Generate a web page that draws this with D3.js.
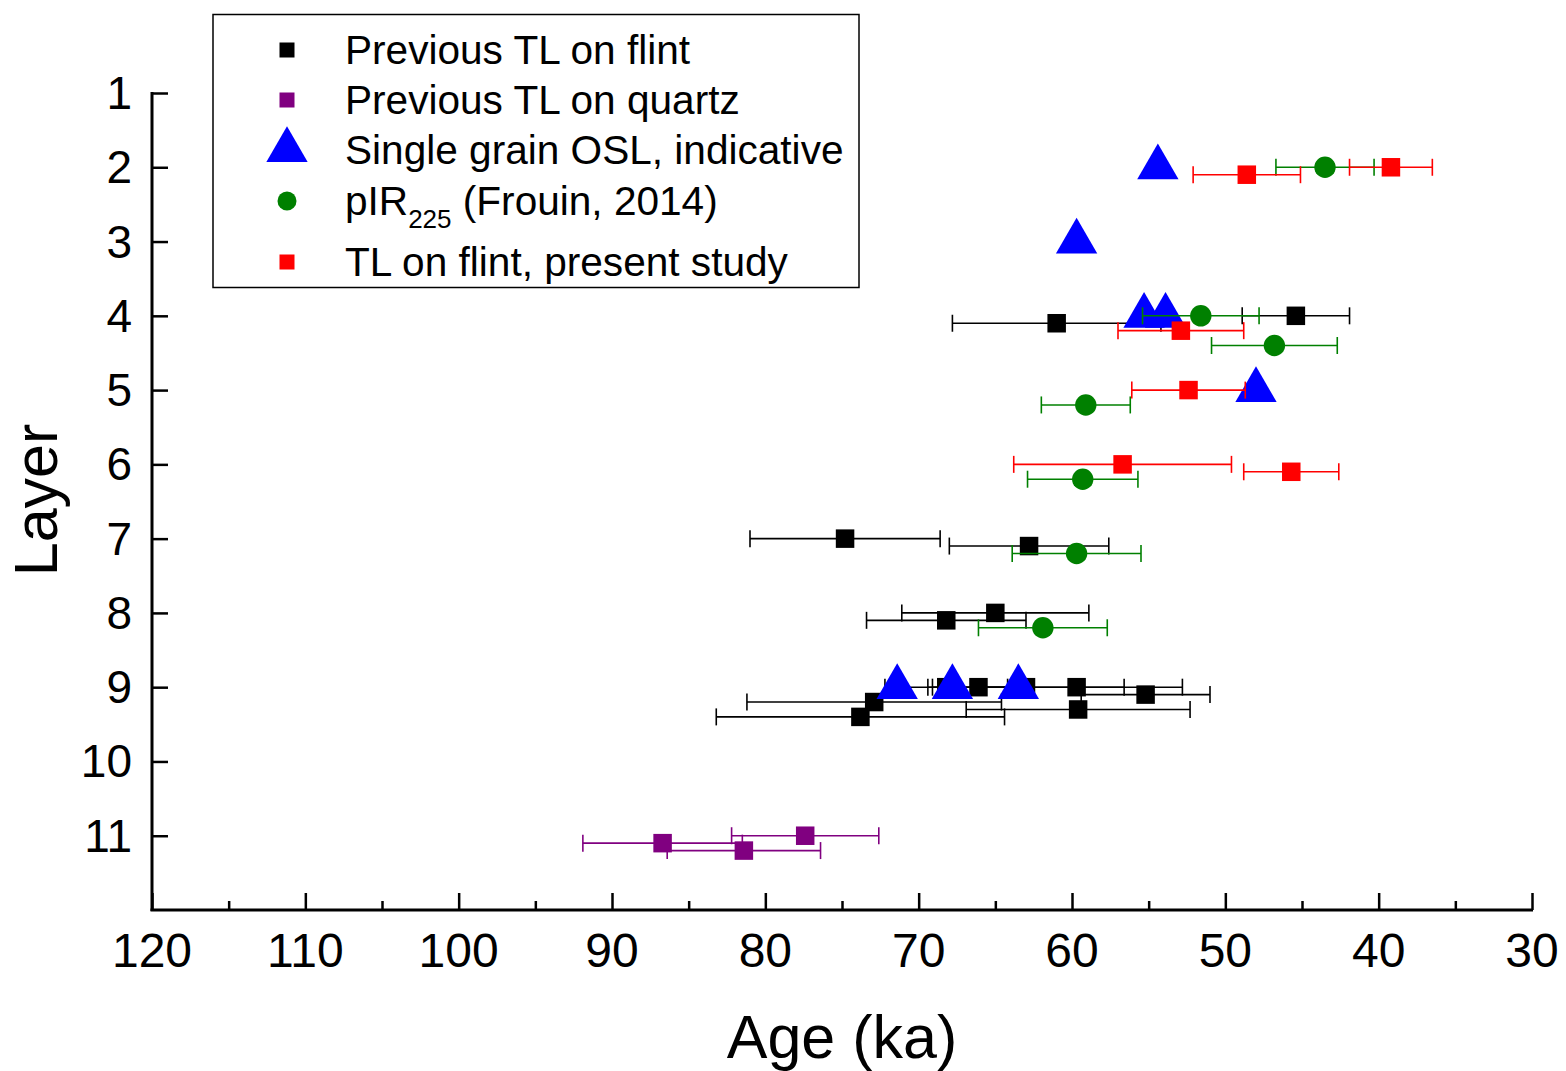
<!DOCTYPE html>
<html>
<head>
<meta charset="utf-8">
<script src="https://cdn.jsdelivr.net/npm/d3@7"></script>
<style>
  html, body { margin: 0; padding: 0; background: #fff; }
  svg { display: block; }
  text { font-family: "Liberation Sans", Arial, sans-serif; fill: #000; }
</style>
</head>
<body>
<svg id="chart" width="1566" height="1071"></svg>
<script>
// ---- data ----
const xTicksMajor = [120, 110, 100, 90, 80, 70, 60, 50, 40, 30];
const xTicksMinor = [115, 105, 95, 85, 75, 65, 55, 45, 35];
const yTicks = [1, 2, 3, 4, 5, 6, 7, 8, 9, 10, 11];

// Previous TL on flint
const flintPrevAge   = [61.0, 45.4, 74.8, 62.8, 65.0, 68.2, 68.2, 66.1, 63.0, 59.7, 55.2, 72.9, 59.6, 73.8];
const flintPrevLayer = [4.1, 4.0, 7.0, 7.1, 8.0, 8.1, 9.0, 9.0, 9.0, 9.0, 9.1, 9.2, 9.3, 9.4];
const flintPrevErr   = [6.8, 3.5, 6.2, 5.2, 6.1, 5.2, 4.0, 3.0, 6.4, 6.9, 4.2, 8.3, 7.3, 9.4];

// Previous TL on quartz
const quartzPrevAge   = [77.4, 86.7, 81.4];
const quartzPrevLayer = [11.0, 11.1, 11.2];
const quartzPrevErr   = [4.8, 5.2, 5.0];

// Single grain OSL, indicative
const oslAge   = [54.4, 59.7, 55.3, 53.9, 48.0, 71.4, 67.8, 63.5];
const oslLayer = [2, 3, 4, 4, 5, 9, 9, 9];

// pIR225 (Frouin, 2014)
const pirAge   = [43.5, 51.6, 46.8, 59.1, 59.3, 59.7, 61.9];
const pirLayer = [2.0, 4.0, 4.4, 5.2, 6.2, 7.2, 8.2];
const pirErr   = [3.2, 3.8, 4.1, 2.9, 3.6, 4.2, 4.2];

// TL on flint, present study
const tlPresAge   = [48.6, 39.2, 52.9, 52.4, 56.7, 45.7];
const tlPresLayer = [2.1, 2.0, 4.2, 5.0, 6.0, 6.1];
const tlPresErr   = [3.5, 2.7, 4.1, 3.7, 7.1, 3.1];

const legendLabels = ["Previous TL on flint", "Previous TL on quartz", "Single grain OSL, indicative", "pIR", "TL on flint, present study"];

// ---- chart ----
const svg = d3.select("#chart");
const x = d3.scaleLinear().domain([120, 30]).range([152, 1532]);
const y = d3.scaleLinear().domain([1, 12]).range([93, 910]);

const zip = (a, l, e) => a.map((v, i) => ({age: v, layer: l[i], err: e ? e[i] : 0}));

// axes
const axG = svg.append("g");
const xAxis = d3.axisTop(x).tickValues(xTicksMajor).tickSize(17).tickFormat("");
const xa = axG.append("g").attr("transform", "translate(0,910)").call(xAxis);
xa.select(".domain").remove();
xa.selectAll("line").attr("stroke", "#000").attr("stroke-width", 2.5);
const xAxisMinor = d3.axisTop(x).tickValues(xTicksMinor).tickSize(9).tickFormat("");
const xm = axG.append("g").attr("transform", "translate(0,910)").call(xAxisMinor);
xm.select(".domain").remove();
xm.selectAll("line").attr("stroke", "#000").attr("stroke-width", 2.5);
axG.append("g").selectAll("text").data(xTicksMajor).join("text")
  .attr("x", d => x(d)).attr("y", 967)
  .attr("text-anchor", "middle").attr("font-size", 48).text(d => d);

const yAxis = d3.axisRight(y).tickValues(yTicks).tickSize(16).tickFormat("");
const ya = axG.append("g").attr("transform", "translate(152,0)").call(yAxis);
ya.select(".domain").remove();
ya.selectAll("line").attr("stroke", "#000").attr("stroke-width", 2.5);
axG.append("g").selectAll("text").data(yTicks).join("text")
  .attr("x", 132).attr("y", d => y(d) + 16)
  .attr("text-anchor", "end").attr("font-size", 46).text(d => d);

axG.append("line").attr("x1", 152).attr("x2", 152).attr("y1", y(1) - 1).attr("y2", 911)
  .attr("stroke", "#000").attr("stroke-width", 3);
axG.append("line").attr("x1", 150.5).attr("x2", x(30) + 1).attr("y1", 910).attr("y2", 910)
  .attr("stroke", "#000").attr("stroke-width", 3);

svg.append("text").attr("x", 842).attr("y", 1058).attr("text-anchor", "middle")
  .attr("font-size", 61).text("Age (ka)");
svg.append("text").attr("transform", "translate(57,500) rotate(-90)").attr("text-anchor", "middle")
  .attr("font-size", 61).text("Layer");

function errBars(data, color) {
  const g = svg.append("g").attr("stroke", color).attr("stroke-width", 1.6).attr("fill", "none");
  data.forEach(d => {
    const yy = y(d.layer), x1 = x(d.age + d.err), x2 = x(d.age - d.err);
    g.append("line").attr("x1", x1).attr("x2", x2).attr("y1", yy).attr("y2", yy);
    g.append("line").attr("x1", x1).attr("x2", x1).attr("y1", yy - 8.5).attr("y2", yy + 8.5);
    g.append("line").attr("x1", x2).attr("x2", x2).attr("y1", yy - 8.5).attr("y2", yy + 8.5);
  });
}
function squares(data, color, s) {
  svg.append("g").selectAll("rect").data(data).join("rect")
    .attr("x", d => x(d.age) - s / 2).attr("y", d => y(d.layer) - s / 2)
    .attr("width", s).attr("height", s).attr("fill", color);
}

const flintPrev = zip(flintPrevAge, flintPrevLayer, flintPrevErr);
const quartzPrev = zip(quartzPrevAge, quartzPrevLayer, quartzPrevErr);
const osl = zip(oslAge, oslLayer);
const pir = zip(pirAge, pirLayer, pirErr);
const tlPres = zip(tlPresAge, tlPresLayer, tlPresErr);

errBars(flintPrev, "#000");
squares(flintPrev, "#000", 18.5);
errBars(quartzPrev, "#800080");
squares(quartzPrev, "#800080", 18.5);

const tri = d3.symbol(d3.symbolTriangle, 740);
svg.append("g").selectAll("path").data(osl).join("path")
  .attr("transform", d => `translate(${x(d.age)},${y(d.layer)})`)
  .attr("d", tri).attr("fill", "#0000ff");

errBars(pir, "#008000");
svg.append("g").selectAll("circle").data(pir).join("circle")
  .attr("cx", d => x(d.age)).attr("cy", d => y(d.layer)).attr("r", 10.7).attr("fill", "#008000");

errBars(tlPres, "#ff0000");
squares(tlPres, "#ff0000", 18.5);

// legend
const lg = svg.append("g");
lg.append("rect").attr("x", 213).attr("y", 14.5).attr("width", 646).attr("height", 273)
  .attr("fill", "#fff").attr("stroke", "#000").attr("stroke-width", 1.5);
const rowY = [50, 100, 150, 201, 262];
const lx = 287, tx = 345;
lg.append("rect").attr("x", lx - 7.5).attr("y", rowY[0] - 7.5).attr("width", 15).attr("height", 15).attr("fill", "#000");
lg.append("rect").attr("x", lx - 7.5).attr("y", rowY[1] - 7.5).attr("width", 15).attr("height", 15).attr("fill", "#800080");
lg.append("path").attr("transform", `translate(${lx},${rowY[2]})`).attr("d", tri).attr("fill", "#0000ff");
lg.append("circle").attr("cx", lx).attr("cy", rowY[3]).attr("r", 9.5).attr("fill", "#008000");
lg.append("rect").attr("x", lx - 7.5).attr("y", rowY[4] - 7.5).attr("width", 15).attr("height", 15).attr("fill", "#ff0000");

legendLabels.forEach((t, i) => {
  const txt = lg.append("text").attr("x", tx).attr("y", rowY[i] + 14).attr("font-size", 40.6);
  if (i === 3) {
    txt.append("tspan").text("pIR");
    txt.append("tspan").attr("font-size", 26).attr("dy", 13).text("225");
    txt.append("tspan").attr("dy", -13).text(" (Frouin, 2014)");
  } else {
    txt.text(t);
  }
});
</script>
</body>
</html>
